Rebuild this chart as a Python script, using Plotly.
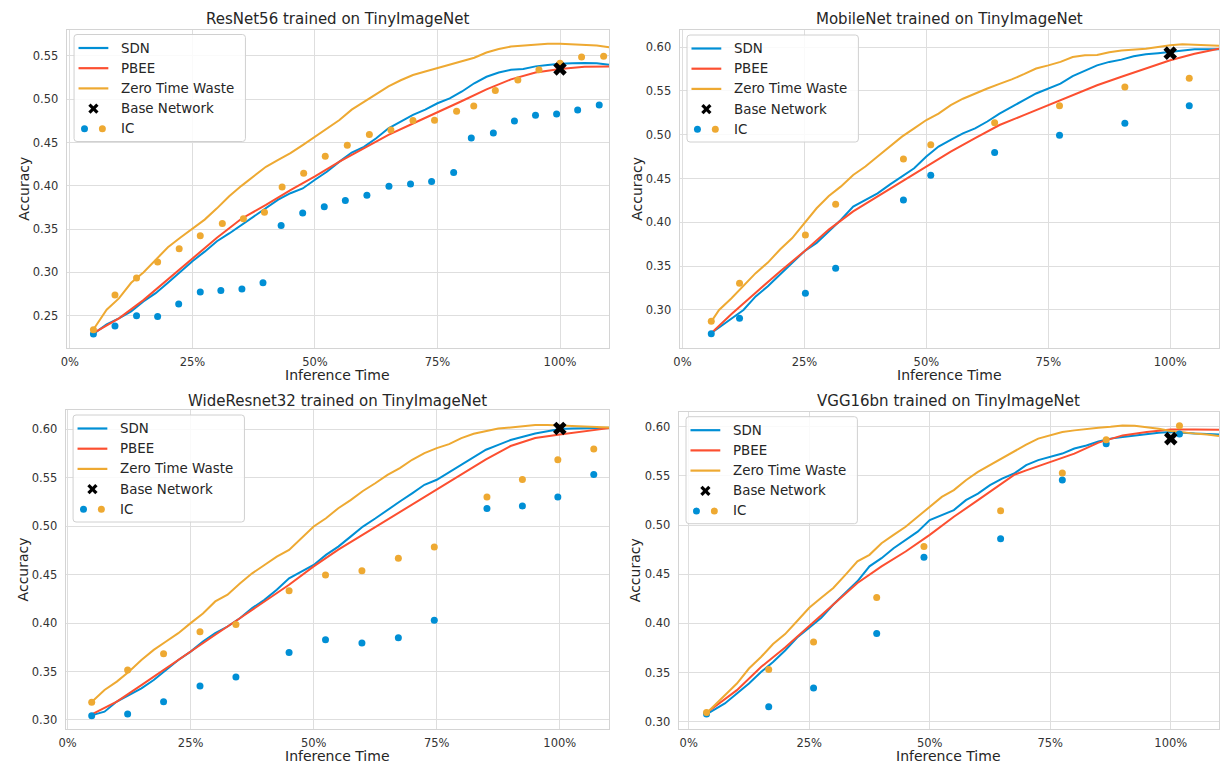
import plotly.graph_objects as go

W, H = 1220, 765
BLUE = "#008fd5"
RED = "#fc4f30"
ORANGE = "#eea932"
TXT = "#262626"
FONT = "DejaVu Sans"

# ---------------- data ----------------
# shared sample positions (fraction of inference time) for SDN / ZTW curves
GRID = [0.075, 0.10, 0.125, 0.15, 0.175, 0.20, 0.225, 0.25, 0.275, 0.30, 0.325, 0.35,
        0.375, 0.40, 0.425, 0.45, 0.475, 0.50, 0.525, 0.55, 0.575, 0.60, 0.625, 0.65,
        0.675, 0.70, 0.725, 0.75, 0.775, 0.80, 0.825, 0.85, 0.875, 0.90, 0.925, 0.95,
        0.975, 1.00, 1.025, 1.05, 1.075, 1.10]
GRID5 = [0.10, 0.15, 0.20, 0.25, 0.30, 0.35, 0.40, 0.45, 0.50, 0.55, 0.60, 0.65, 0.70,
         0.75, 0.80, 0.85, 0.90, 0.95, 1.00, 1.05, 1.10]

# ResNet56
rn_start = 0.048
rn_sdn = [0.229, 0.240, 0.247, 0.255, 0.2665, 0.276, 0.288, 0.301, 0.313, 0.324, 0.336, 0.345,
          0.355, 0.365, 0.374, 0.384, 0.3915, 0.397, 0.407, 0.4165, 0.428, 0.4385, 0.445, 0.455,
          0.4665, 0.474, 0.482, 0.488, 0.4954, 0.501, 0.509, 0.5185, 0.526, 0.531, 0.534, 0.535,
          0.538, 0.5396, 0.541, 0.5415, 0.542, 0.5415, 0.540]
rn_ztw = [0.234, 0.257, 0.270, 0.288, 0.300, 0.3146, 0.329, 0.340, 0.351, 0.361, 0.374, 0.388,
          0.400, 0.411, 0.422, 0.430, 0.4377, 0.447, 0.457, 0.467, 0.476, 0.488, 0.497, 0.507,
          0.515, 0.522, 0.528, 0.532, 0.536, 0.540, 0.5446, 0.548, 0.554, 0.558, 0.561, 0.562,
          0.5635, 0.564, 0.564, 0.5635, 0.563, 0.562, 0.560]
rn_pbee_x = [0.048] + GRID5
rn_pbee = [0.230, 0.247, 0.268, 0.292, 0.315, 0.340, 0.362, 0.378, 0.395, 0.411, 0.428, 0.444,
           0.459, 0.472, 0.4846, 0.498, 0.5115, 0.523, 0.531, 0.535, 0.5377, 0.538]
rn_ic_blue_x = [0.048, 0.092, 0.136, 0.179, 0.222, 0.266, 0.308, 0.351, 0.394, 0.431, 0.475, 0.519,
                0.562, 0.606, 0.651, 0.695, 0.738, 0.783, 0.819, 0.864, 0.907, 0.95, 0.993, 1.036, 1.080]
rn_ic_blue = [0.229, 0.238, 0.250, 0.249, 0.2635, 0.2773, 0.2792, 0.2808, 0.288, 0.3542, 0.3685, 0.376,
              0.383, 0.389, 0.3996, 0.402, 0.405, 0.4154, 0.4554, 0.461, 0.475, 0.4815, 0.483, 0.4877, 0.4935]
rn_ic_orange_x = [0.048, 0.092, 0.136, 0.179, 0.223, 0.266, 0.311, 0.354, 0.397, 0.433, 0.477, 0.521,
                  0.566, 0.611, 0.655, 0.70, 0.744, 0.789, 0.824, 0.868, 0.914, 0.957, 1.0, 1.044, 1.089]
rn_ic_orange = [0.2338, 0.2738, 0.2935, 0.312, 0.3273, 0.3423, 0.3565, 0.362, 0.3696, 0.3988, 0.4146, 0.4342,
                0.447, 0.4592, 0.4646, 0.4754, 0.4758, 0.4862, 0.4923, 0.510, 0.5223, 0.5342, 0.5415, 0.5488, 0.5496]
rn_base = (1.0, 0.535)

# MobileNet
mb_start = 0.06
mb_sdn = [0.274, 0.280, 0.291, 0.300, 0.3155, 0.327, 0.3405, 0.354, 0.367, 0.3765, 0.390, 0.403,
          0.418, 0.4258, 0.433, 0.443, 0.452, 0.4617, 0.475, 0.4864, 0.494, 0.5015, 0.5072, 0.515,
          0.524, 0.532, 0.5394, 0.547, 0.5527, 0.5583, 0.5667, 0.5727, 0.579, 0.583, 0.5856, 0.5894,
          0.5917, 0.593, 0.5943, 0.596, 0.5973, 0.5975, 0.5973]
mb_ztw = [0.2875, 0.300, 0.313, 0.327, 0.342, 0.354, 0.369, 0.382, 0.399, 0.416, 0.430, 0.441,
          0.454, 0.4636, 0.475, 0.4864, 0.4977, 0.5072, 0.5167, 0.524, 0.5337, 0.541, 0.547, 0.5527,
          0.558, 0.563, 0.569, 0.5754, 0.579, 0.583, 0.5886, 0.5905, 0.591, 0.594, 0.596, 0.597,
          0.598, 0.600, 0.602, 0.603, 0.6027, 0.602, 0.6015]
mb_pbee_x = [0.06] + GRID5
mb_pbee = [0.274, 0.295, 0.3197, 0.344, 0.367, 0.3917, 0.4125, 0.4295, 0.4466, 0.4636, 0.4807, 0.496,
           0.511, 0.5223, 0.5337, 0.545, 0.5564, 0.566, 0.5754, 0.5848, 0.5924, 0.598]
mb_ic_x = [0.059, 0.117, 0.252, 0.314, 0.453, 0.509, 0.640, 0.773, 0.907, 1.039]
mb_ic_blue = [0.273, 0.2905, 0.319, 0.3477, 0.4254, 0.4538, 0.4796, 0.4992, 0.5129, 0.533]
mb_ic_orange = [0.287, 0.3306, 0.3856, 0.4205, 0.4723, 0.4886, 0.5136, 0.533, 0.5545, 0.5644]
mb_base = (1.0, 0.593)

# WideResnet32
wr_start = 0.05
wr_sdn = [0.305, 0.3086, 0.319, 0.3258, 0.3327, 0.3413, 0.3517, 0.362, 0.3706, 0.381, 0.3896, 0.3965,
          0.405, 0.4155, 0.424, 0.4344, 0.4462, 0.453, 0.460, 0.4704, 0.479, 0.4893, 0.4997, 0.508,
          0.517, 0.5255, 0.534, 0.5428, 0.548, 0.5558, 0.5634, 0.572, 0.579, 0.584, 0.589, 0.5924,
          0.5958, 0.598, 0.6003, 0.601, 0.6014, 0.6016, 0.6017]
wr_ztw = [0.319, 0.331, 0.3396, 0.350, 0.362, 0.3724, 0.381, 0.3896, 0.400, 0.410, 0.4224, 0.4293,
          0.441, 0.4514, 0.460, 0.4686, 0.4755, 0.4875, 0.4997, 0.5083, 0.5186, 0.527, 0.5364, 0.5444,
          0.553, 0.560, 0.5686, 0.5755, 0.5806, 0.5848, 0.591, 0.5955, 0.5986, 0.601, 0.602, 0.603,
          0.6045, 0.6045, 0.604, 0.6034, 0.6034, 0.6028, 0.602]
wr_pbee_x = [0.05] + GRID5
wr_pbee = [0.306, 0.319, 0.336, 0.3535, 0.3706, 0.388, 0.405, 0.4224, 0.4396, 0.4586, 0.4758, 0.4913,
           0.5068, 0.5224, 0.5378, 0.5533, 0.569, 0.5828, 0.591, 0.5946, 0.598, 0.6013]
wr_ic_x = [0.049, 0.122, 0.195, 0.269, 0.342, 0.450, 0.524, 0.598, 0.672, 0.745, 0.852, 0.924, 0.996, 1.069]
wr_ic_blue = [0.3045, 0.3062, 0.3189, 0.335, 0.3444, 0.3696, 0.3828, 0.3794, 0.3849, 0.403, 0.5183,
              0.521, 0.5303, 0.5534]
wr_ic_orange = [0.3182, 0.3516, 0.3684, 0.391, 0.3986, 0.4335, 0.4497, 0.4541, 0.4669, 0.4787, 0.5303,
                0.5483, 0.5686, 0.5797]
wr_base = (1.0, 0.601)

# VGG16bn
vg_start = 0.04
vg_sdn = [0.3084, 0.3185, 0.3286, 0.3387, 0.3505, 0.3606, 0.3724, 0.3855, 0.3956, 0.4057, 0.4192, 0.431,
          0.4428, 0.458, 0.4663, 0.4764, 0.4848, 0.4933, 0.505, 0.510, 0.5152, 0.5253, 0.532, 0.5406,
          0.5473, 0.5524, 0.561, 0.566, 0.5694, 0.5727, 0.5778, 0.581, 0.585, 0.5879, 0.5896, 0.5912,
          0.593, 0.594, 0.5946, 0.5936, 0.593, 0.5925, 0.592]
vg_ztw = [0.310, 0.327, 0.3387, 0.354, 0.3657, 0.379, 0.389, 0.4024, 0.4158, 0.426, 0.4359, 0.4493,
          0.463, 0.4697, 0.4815, 0.490, 0.4983, 0.5084, 0.5185, 0.5286, 0.5355, 0.5456, 0.554, 0.561,
          0.5677, 0.5744, 0.5818, 0.5879, 0.5912, 0.5946, 0.5963, 0.598, 0.599, 0.600, 0.6013, 0.601,
          0.5997, 0.598, 0.5956, 0.594, 0.593, 0.592, 0.5906]
vg_pbee_x = [0.04, 0.10, 0.15, 0.20, 0.25, 0.30, 0.35, 0.40, 0.45, 0.50, 0.55, 0.60, 0.65, 0.675,
             0.70, 0.75, 0.80, 0.85, 0.90, 0.95, 1.0, 1.05, 1.10]
vg_pbee = [0.310, 0.332, 0.3556, 0.3754, 0.3973, 0.4192, 0.441, 0.458, 0.4731, 0.490, 0.5084, 0.5253,
           0.5424, 0.551, 0.5556, 0.564, 0.5727, 0.5838, 0.5912, 0.5946, 0.5973, 0.5973, 0.597]
vg_ic_x = [0.037, 0.166, 0.259, 0.39, 0.488, 0.647, 0.775, 0.866, 1.018]
vg_ic_blue = [0.3077, 0.3152, 0.3343, 0.3896, 0.4673, 0.486, 0.5458, 0.5828, 0.5926]
vg_ic_orange = [0.3094, 0.353, 0.381, 0.4262, 0.4781, 0.5145, 0.553, 0.5868, 0.601]
vg_base = (1.0, 0.5879)

x_tick_vals = [0, 0.25, 0.5, 0.75, 1.0]
x_tick_text = ["0%", "25%", "50%", "75%", "100%"]
legend_labels = ["SDN", "PBEE", "Zero Time Waste", "Base Network", "IC"]

panels = [
    dict(title="ResNet56 trained on TinyImageNet", box=(60, 606, 29.5, 348), title_y=19,
         xr=[-0.0067, 1.10], yr=[0.2127, 0.5806],
         sdn_x=[rn_start] + GRID, sdn=rn_sdn, ztw_x=[rn_start] + GRID, ztw=rn_ztw,
         pbee_x=rn_pbee_x, pbee=rn_pbee,
         icb_x=rn_ic_blue_x, icb=rn_ic_blue, ico_x=rn_ic_orange_x, ico=rn_ic_orange, base=rn_base),
    dict(title="MobileNet trained on TinyImageNet", box=(677, 1220, 30, 348), title_y=19,
         xr=[-0.006, 1.10], yr=[0.2566, 0.6194],
         sdn_x=[mb_start] + GRID, sdn=mb_sdn, ztw_x=[mb_start] + GRID, ztw=mb_ztw,
         pbee_x=mb_pbee_x, pbee=mb_pbee,
         icb_x=mb_ic_x, icb=mb_ic_blue, ico_x=mb_ic_x, ico=mb_ic_orange, base=mb_base),
    dict(title="WideResnet32 trained on TinyImageNet", box=(59, 606, 410, 729), title_y=401,
         xr=[-0.004, 1.10], yr=[0.2907, 0.620],
         sdn_x=[wr_start] + GRID, sdn=wr_sdn, ztw_x=[wr_start] + GRID, ztw=wr_ztw,
         pbee_x=wr_pbee_x, pbee=wr_pbee,
         icb_x=wr_ic_x, icb=wr_ic_blue, ico_x=wr_ic_x, ico=wr_ic_orange, base=wr_base),
    dict(title="VGG16bn trained on TinyImageNet", box=(676, 1220, 411.7, 729), title_y=401,
         xr=[-0.021, 1.10], yr=[0.2925, 0.6153],
         sdn_x=[vg_start] + GRID, sdn=vg_sdn, ztw_x=[vg_start] + GRID, ztw=vg_ztw,
         pbee_x=vg_pbee_x, pbee=vg_pbee,
         icb_x=vg_ic_x, icb=vg_ic_blue, ico_x=vg_ic_x, ico=vg_ic_orange, base=vg_base),
]


def px(x):
    return x / W


def py(y):
    return 1 - y / H


fig = go.Figure()
shapes = []
annotations = []
layout = {}

for i, p in enumerate(panels):
    k = "" if i == 0 else str(i + 1)
    xa, ya = "x" + k, "y" + k
    L, R, T, B = p["box"]
    common_axis = dict(showgrid=True, gridcolor="#dedede", gridwidth=1, showline=True,
                       linecolor="#d4d4d4", linewidth=1, mirror=True, zeroline=False,
                       ticks="", tickfont=dict(family=FONT, size=11.5, color="#333333"))
    layout["xaxis" + k] = dict(domain=[px(L), px(R)], anchor=ya, range=p["xr"],
                               tickvals=x_tick_vals, ticktext=x_tick_text,
                               ticklabelstandoff=3, **common_axis)
    layout["yaxis" + k] = dict(domain=[py(B), py(T)], anchor=xa, range=p["yr"],
                               dtick=0.05, tick0=0, tickformat=".2f",
                               ticklabelstandoff=5, **common_axis)

    # curves
    fig.add_trace(go.Scatter(x=p["sdn_x"], y=p["sdn"], mode="lines", line=dict(color=BLUE, width=2),
                             xaxis=xa, yaxis=ya, showlegend=False))
    fig.add_trace(go.Scatter(x=p["pbee_x"], y=p["pbee"], mode="lines", line=dict(color=RED, width=2),
                             xaxis=xa, yaxis=ya, showlegend=False))
    fig.add_trace(go.Scatter(x=p["ztw_x"], y=p["ztw"], mode="lines", line=dict(color=ORANGE, width=2),
                             xaxis=xa, yaxis=ya, showlegend=False))
    fig.add_trace(go.Scatter(x=p["icb_x"], y=p["icb"], mode="markers",
                             marker=dict(color=BLUE, size=7, line=dict(width=0)),
                             xaxis=xa, yaxis=ya, showlegend=False))
    fig.add_trace(go.Scatter(x=p["ico_x"], y=p["ico"], mode="markers",
                             marker=dict(color=ORANGE, size=7, line=dict(width=0)),
                             xaxis=xa, yaxis=ya, showlegend=False))
    fig.add_trace(go.Scatter(x=[p["base"][0]], y=[p["base"][1]], mode="markers",
                             marker=dict(color="black", size=12, symbol="x", line=dict(width=0)),
                             xaxis=xa, yaxis=ya, showlegend=False))

    # titles
    annotations.append(dict(text=p["title"], x=px((L + R) / 2),
                            y=py(p["title_y"]), xref="paper", yref="paper", showarrow=False,
                            xanchor="center", yanchor="middle",
                            font=dict(family=FONT, size=15, color=TXT)))
    annotations.append(dict(text="Inference Time", x=px((L + R) / 2), y=py(B + 27),
                            xref="paper", yref="paper", showarrow=False,
                            xanchor="center", yanchor="middle",
                            font=dict(family=FONT, size=14, color=TXT)))
    annotations.append(dict(text="Accuracy", x=px(L - 43), y=py((T + B) / 2), textangle=-90,
                            xref="paper", yref="paper", showarrow=False,
                            xanchor="center", yanchor="middle",
                            font=dict(family=FONT, size=14, color=TXT)))

    # legend box (rounded)
    bx0, bx1, by0, by1 = L + 7.5, L + 180, T + 5, T + 112
    r = 3
    path = (f"M {px(bx0 + r)},{py(by0)} L {px(bx1 - r)},{py(by0)} "
            f"Q {px(bx1)},{py(by0)} {px(bx1)},{py(by0 + r)} "
            f"L {px(bx1)},{py(by1 - r)} Q {px(bx1)},{py(by1)} {px(bx1 - r)},{py(by1)} "
            f"L {px(bx0 + r)},{py(by1)} Q {px(bx0)},{py(by1)} {px(bx0)},{py(by1 - r)} "
            f"L {px(bx0)},{py(by0 + r)} Q {px(bx0)},{py(by0)} {px(bx0 + r)},{py(by0)} Z")
    shapes.append(dict(type="path", path=path, xref="paper", yref="paper", layer="above",
                       fillcolor="rgba(255,255,255,0.85)", line=dict(color="#d0d0d0", width=1)))
    rows = [T + 18.5 + 20.2 * j for j in range(5)]
    for j, col in enumerate([BLUE, RED, ORANGE]):
        shapes.append(dict(type="line", xref="paper", yref="paper", layer="above",
                           x0=px(L + 12), x1=px(L + 42), y0=py(rows[j]), y1=py(rows[j]),
                           line=dict(color=col, width=2.2)))
    # base network X glyph
    cx, cy, s = L + 27, rows[3], 4
    for (dx0, dy0, dx1, dy1) in [(-s, -s, s, s), (-s, s, s, -s)]:
        shapes.append(dict(type="line", xref="paper", yref="paper", layer="above",
                           x0=px(cx + dx0), y0=py(cy + dy0), x1=px(cx + dx1), y1=py(cy + dy1),
                           line=dict(color="black", width=3.2)))
    # IC dots
    for dxc, col in [(18, BLUE), (36, ORANGE)]:
        rr = 3.5
        shapes.append(dict(type="circle", xref="paper", yref="paper", layer="above",
                           x0=px(L + dxc - rr), x1=px(L + dxc + rr),
                           y0=py(rows[4] + rr), y1=py(rows[4] - rr),
                           fillcolor=col, line=dict(width=0)))
    for j, lab in enumerate(legend_labels):
        annotations.append(dict(text=lab, x=px(L + 53), y=py(rows[j]), xref="paper", yref="paper",
                                showarrow=False, xanchor="left", yanchor="middle",
                                font=dict(family=FONT, size=13.4, color=TXT)))

fig.update_layout(width=W, height=H, margin=dict(l=0, r=0, t=0, b=0),
                  paper_bgcolor="white", plot_bgcolor="white", showlegend=False,
                  font=dict(family=FONT, color=TXT), shapes=shapes, annotations=annotations,
                  **layout)

fig.write_html("out.html")
